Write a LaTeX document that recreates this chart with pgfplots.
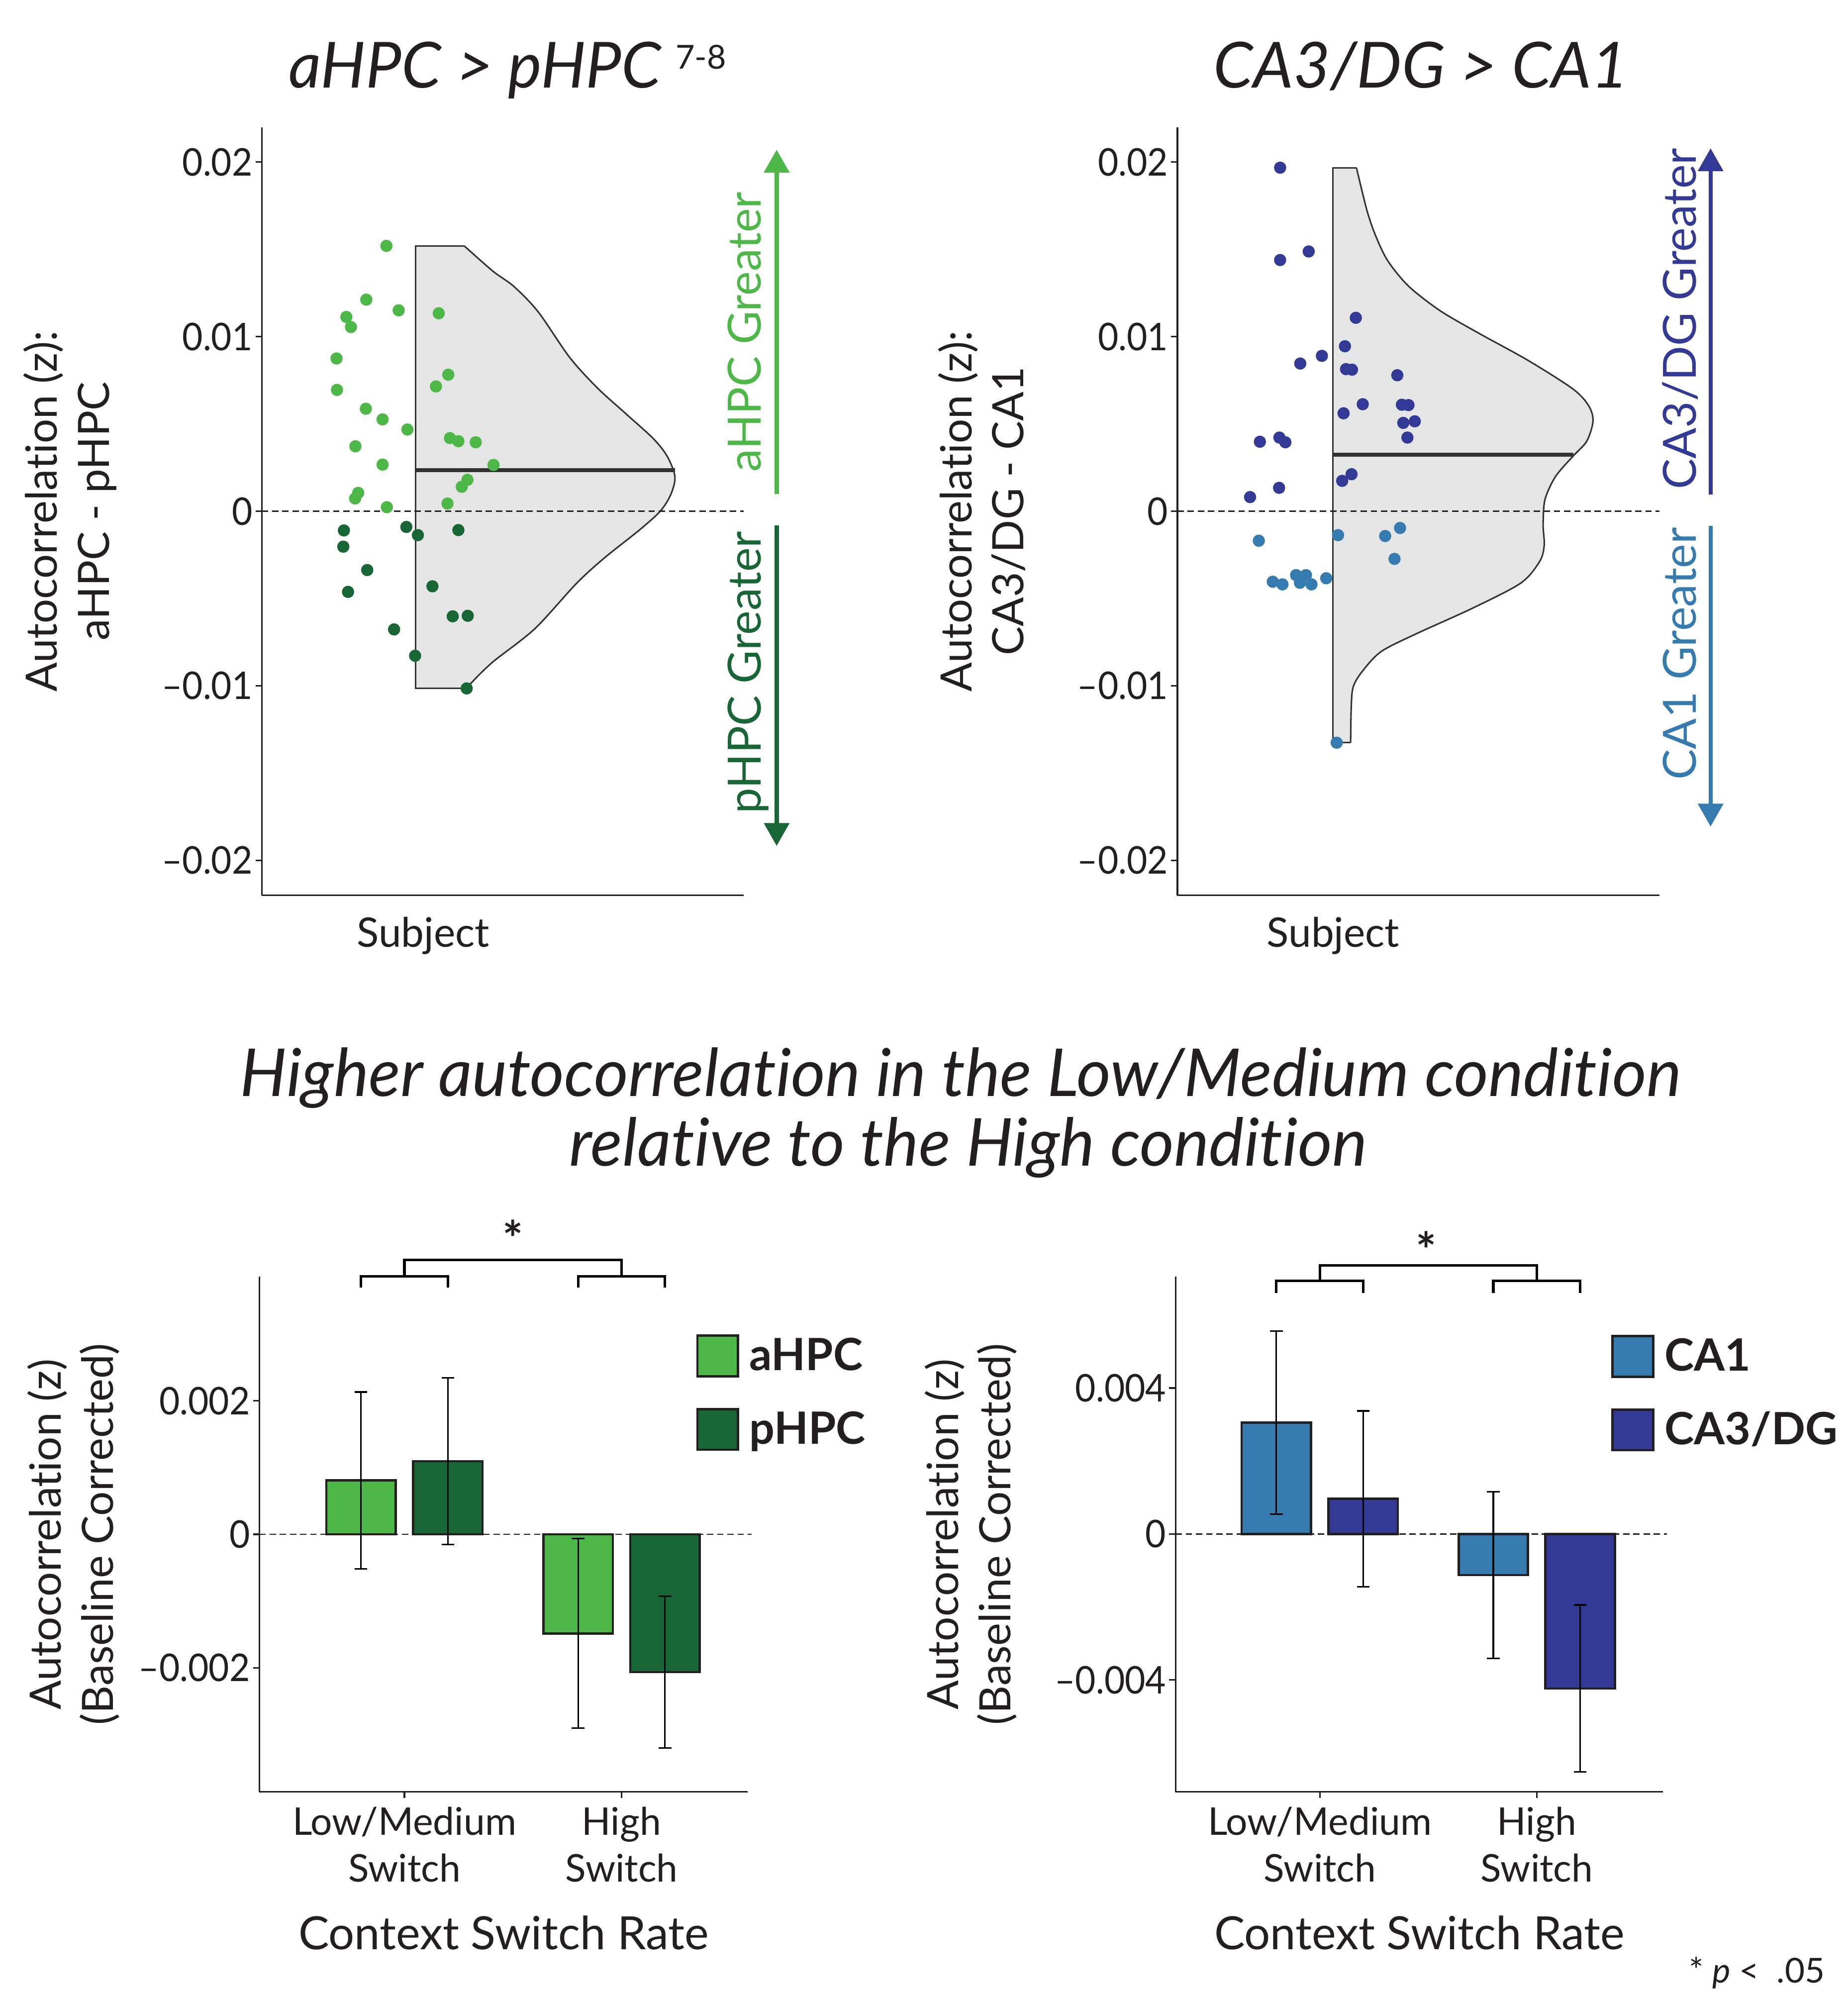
\documentclass[border=0pt]{standalone}
\usepackage{fontspec}
\setmainfont{Lato}[Ligatures=NoCommon]
\newfontfamily\condfont[FakeStretch=0.93]{Lato}
\usepackage{pgfplots}
\pgfplotsset{compat=1.18}
\usetikzlibrary{arrows.meta}

\definecolor{ahpc}{HTML}{4DB848}
\definecolor{phpc}{HTML}{186535}
\definecolor{caone}{HTML}{367BB0}
\definecolor{cathree}{HTML}{323A96}
\definecolor{vfill}{HTML}{E4E5E4}
\definecolor{vline}{HTML}{333333}
\definecolor{ink}{HTML}{231F20}

\tikzset{
  zeroline/.style={ink, line width=0.5pt, dash pattern=on 2.5pt off 1.5pt},
  bracket/.style={black, line width=1pt},
}
\pgfplotsset{
  panel/.style={
    scale only axis, clip=false,
    axis lines=left, axis line style={-, line width=0.6pt, ink},
    tick align=outside, major tick length=2.5pt,
    tick style={line width=0.6pt, ink},
    scaled y ticks=false,
    yticklabel style={font=\condfont\fontsize{15}{17}\selectfont, text=ink, inner sep=1pt},
    xticklabel style={text=ink},
    ylabel style={align=center, font=\fontsize{17}{20.5}\selectfont, text=ink, anchor=center},
    xlabel style={font=\fontsize{18}{21}\selectfont, text=ink},
  },
  dots/.style={only marks, mark=*, mark size=2.2pt, color=#1, mark options={solid, fill=#1, draw=#1}},
  violin/.style={draw=none, fill=vfill},
  outline/.style={vline, line width=0.6pt},
  bars/.style={ybar, bar width=0.32, bar shift=0pt, fill=#1, draw=ink, line width=0.9pt,
    error bars/y dir=both, error bars/y explicit,
    error bars/error bar style={line width=0.6pt, black},
    error bars/error mark options={rotate=90, mark size=2.5pt, line width=0.6pt, black}},
  barlegend/.style={draw=none, fill=none,
    font=\bfseries\fontsize{17.5}{20}\selectfont, text=ink, row sep=12pt, column sep=3pt,
    nodes={inner sep=1pt}},
}

\begin{document}
\begin{tikzpicture}

% ---------------- top left: aHPC - pHPC ----------------
\begin{axis}[panel, at={(103pt,-352pt)}, anchor=south west,
  width=189.5pt, height=302pt,
  xmin=-1, xmax=2.14, ymin=-0.022, ymax=0.022,
  ytick={-0.02,-0.01,0,0.01,0.02},
  yticklabels={\textendash0.02,\textendash0.01,0,0.01,0.02},
  xtick={0.05}, xticklabels={Subject}, xtick style={draw=none},
  xticklabel style={font=\fontsize{16}{19}\selectfont, yshift=-2.5pt},
  ylabel={Autocorrelation (z):\\aHPC - pHPC},
  ylabel style={at={(axis description cs:-0.398,0.5)}},
]
\addplot[violin] coordinates {(0,0.0152) (0.318,0.0152) (0.505,0.01375) (0.641,0.01288)
  (0.8,0.01142) (1.005,0.00881) (1.186,0.00706) (1.368,0.00561) (1.55,0.00416)
  (1.641,0.00314) (1.691,0.00198) (1.664,0.00096) (1.595,0) (1.459,-0.00108)
  (1.232,-0.00267) (1.05,-0.00413) (0.777,-0.00674) (0.505,-0.00863) (0.368,-0.0098)
  (0.345,-0.01015) (0,-0.01015)};
\addplot[outline, smooth, tension=0.5] coordinates {(0.318,0.0152) (0.505,0.01375) (0.641,0.01288)
  (0.8,0.01142) (1.005,0.00881) (1.186,0.00706) (1.368,0.00561) (1.55,0.00416)
  (1.641,0.00314) (1.691,0.00198) (1.664,0.00096) (1.595,0) (1.459,-0.00108)
  (1.232,-0.00267) (1.05,-0.00413) (0.777,-0.00674) (0.505,-0.00863) (0.368,-0.0098)
  (0.345,-0.01015)};
\addplot[outline] coordinates {(0.318,0.0152) (0,0.0152) (0,-0.01015) (0.345,-0.01015)};
\draw[zeroline] (axis cs:-1,0) -- (axis cs:2.14,0);
\addplot[vline, line width=1.6pt] coordinates {(0,0.00235) (1.69,0.00235)};
\addplot[dots=ahpc] coordinates {(-0.189,0.01520) (-0.320,0.01212) (-0.109,0.01151)
  (0.152,0.01134) (-0.450,0.01113) (-0.420,0.01055) (-0.514,0.00875) (-0.511,0.00695)
  (0.214,0.00782) (0.134,0.00715) (-0.323,0.00587) (-0.214,0.00526) (-0.052,0.00468)
  (-0.391,0.00372) (0.225,0.00419) (0.280,0.00401) (0.393,0.00395) (-0.214,0.00267)
  (0.509,0.00265) (0.339,0.00180) (0.302,0.00140) (-0.373,0.00105) (-0.393,0.00073)
  (-0.186,0.00023) (0.209,0.00044)};
\addplot[dots=phpc] coordinates {(-0.466,-0.00110) (-0.059,-0.00090) (0.016,-0.00137)
  (0.280,-0.00108) (-0.470,-0.00203) (-0.314,-0.00337) (-0.439,-0.00462) (0.111,-0.00430)
  (0.243,-0.00602) (0.341,-0.00599) (-0.139,-0.00677) (-0.002,-0.00828) (0.334,-0.01015)};
\end{axis}

% ---------------- top right: CA3/DG - CA1 ----------------
\begin{axis}[panel, at={(463pt,-352pt)}, anchor=south west,
  width=189.5pt, height=302pt,
  xmin=-1.014, xmax=2.125, ymin=-0.022, ymax=0.022,
  ytick={-0.02,-0.01,0,0.01,0.02},
  yticklabels={\textendash0.02,\textendash0.01,0,0.01,0.02},
  xtick={0}, xticklabels={Subject}, xtick style={draw=none},
  xticklabel style={font=\fontsize{16}{19}\selectfont, yshift=-2.5pt},
  ylabel={Autocorrelation (z):\\CA3/DG - CA1},
  ylabel style={at={(axis description cs:-0.406,0.5)}},
]
\addplot[violin] coordinates {(0,0.01968) (0.152,0.01968) (0.220,0.01724) (0.277,0.01578)
  (0.357,0.01433) (0.493,0.01288) (0.698,0.01148) (0.948,0.01020) (1.266,0.00866)
  (1.561,0.00701) (1.664,0.00605) (1.693,0.00517) (1.652,0.00401) (1.561,0.00314)
  (1.448,0.00198) (1.380,0.00067) (1.368,-0.00078) (1.375,-0.00195) (1.345,-0.00288)
  (1.220,-0.00413) (0.902,-0.00558) (0.539,-0.00703) (0.311,-0.00805) (0.186,-0.00922)
  (0.130,-0.01009) (0.118,-0.01125) (0.114,-0.01326) (0,-0.01326)};
\addplot[outline, smooth, tension=0.5] coordinates {(0.152,0.01968) (0.220,0.01724) (0.277,0.01578)
  (0.357,0.01433) (0.493,0.01288) (0.698,0.01148) (0.948,0.01020) (1.266,0.00866)
  (1.561,0.00701) (1.664,0.00605) (1.693,0.00517) (1.652,0.00401) (1.561,0.00314)
  (1.448,0.00198) (1.380,0.00067) (1.368,-0.00078) (1.375,-0.00195) (1.345,-0.00288)
  (1.220,-0.00413) (0.902,-0.00558) (0.539,-0.00703) (0.311,-0.00805) (0.186,-0.00922)
  (0.130,-0.01009) (0.118,-0.01125) (0.114,-0.01326)};
\addplot[outline] coordinates {(0.152,0.01968) (0,0.01968) (0,-0.01326) (0.114,-0.01326)};
\draw[zeroline] (axis cs:-1.014,0) -- (axis cs:2.125,0);
\addplot[vline, line width=1.6pt] coordinates {(0,0.00323) (1.566,0.00323)};
\addplot[dots=cathree] coordinates {(-0.345,0.01968) (-0.345,0.01439) (-0.159,0.01488)
  (0.148,0.01108) (0.077,0.00945) (-0.214,0.00846) (-0.073,0.00890) (0.084,0.00814)
  (0.123,0.00811) (0.418,0.00779) (0.193,0.00613) (0.068,0.00561) (0.448,0.00610)
  (0.491,0.00608) (0.457,0.00506) (0.532,0.00515) (0.484,0.00422) (-0.477,0.00398)
  (-0.350,0.00422) (-0.311,0.00395) (-0.352,0.00134) (-0.541,0.00081) (0.059,0.00174)
  (0.120,0.00212)};
\addplot[dots=caone] coordinates {(-0.484,-0.00169) (0.032,-0.00137) (0.339,-0.00142)
  (0.436,-0.00096) (0.400,-0.00273) (-0.393,-0.00404) (-0.330,-0.00419) (-0.241,-0.00366)
  (-0.177,-0.00366) (-0.216,-0.00410) (-0.141,-0.00419) (-0.045,-0.00384) (0.023,-0.01326)};
\end{axis}

% ---------------- bottom left: hippocampal axis bars ----------------
\begin{axis}[panel, at={(102pt,-704.5pt)}, anchor=south west,
  width=192pt, height=202.5pt,
  xmin=-0.668, xmax=1.581, ymin=-0.00386, ymax=0.00386,
  ytick={-0.002,0,0.002}, yticklabels={\textendash0.002,0,0.002},
  xtick={0,1}, xticklabels={Low/Medium\\Switch, High\\Switch},
  xticklabel style={align=center, font=\fontsize{15}{18.3}\selectfont},
  xlabel={Context Switch Rate},
  xlabel style={at={(axis description cs:0.5,-0.306)}, anchor=base},
  ylabel={Autocorrelation (z)\\(Baseline Corrected)},
  ylabel style={at={(axis description cs:-0.381,0.5)}},
  legend style={barlegend, at={(0.878,0.899)}, anchor=north west},
  legend cell align=left,
]
\draw[zeroline] (axis cs:-0.668,0) -- (axis cs:1.6,0);
\addplot[bars=ahpc,
  legend image code/.code={\draw[fill=ahpc,draw=ink,line width=0.9pt] (0pt,-8pt) rectangle (16pt,8pt);}]
  coordinates {(-0.2,0.000808) +- (0,0.001325) (0.8,-0.001486) +- (0,0.00142)};
\addlegendentry{aHPC}
\addplot[bars=phpc,
  legend image code/.code={\draw[fill=phpc,draw=ink,line width=0.9pt] (0pt,-8pt) rectangle (16pt,8pt);}]
  coordinates {(0.2,0.001097) +- (0,0.00125) (1.2,-0.002065) +- (0,0.00114)};
\addlegendentry{pHPC}
\draw[bracket] (axis cs:-0.2,0.0037) -- (axis cs:-0.2,0.00387) -- (axis cs:0.2,0.00387) -- (axis cs:0.2,0.0037);
\draw[bracket] (axis cs:0.8,0.0037) -- (axis cs:0.8,0.00387) -- (axis cs:1.2,0.00387) -- (axis cs:1.2,0.0037);
\draw[bracket] (axis cs:0,0.00387) -- (axis cs:0,0.00411) -- (axis cs:1,0.00411) -- (axis cs:1,0.00387);
\node[font=\bfseries\fontsize{19}{21}\selectfont, text=ink] at (axis cs:0.5,0.00444) {*};
\end{axis}

% ---------------- bottom right: subfield bars ----------------
\begin{axis}[panel, at={(462.25pt,-704.5pt)}, anchor=south west,
  width=191.75pt, height=202.5pt,
  xmin=-0.665, xmax=1.583, ymin=-0.00707, ymax=0.00705,
  ytick={-0.004,0,0.004}, yticklabels={\textendash0.004,0,0.004},
  xtick={0,1}, xticklabels={Low/Medium\\Switch, High\\Switch},
  xticklabel style={align=center, font=\fontsize{15}{18.3}\selectfont},
  xlabel={Context Switch Rate},
  xlabel style={at={(axis description cs:0.5,-0.306)}, anchor=base},
  ylabel={Autocorrelation (z)\\(Baseline Corrected)},
  ylabel style={at={(axis description cs:-0.42,0.5)}},
  legend style={barlegend, at={(0.877,0.898)}, anchor=north west},
  legend cell align=left,
]
\draw[zeroline] (axis cs:-0.665,0) -- (axis cs:1.6,0);
\addplot[bars=caone,
  legend image code/.code={\draw[fill=caone,draw=ink,line width=0.9pt] (0pt,-8pt) rectangle (16pt,8pt);}]
  coordinates {(-0.2,0.003052) +- (0,0.00251) (0.8,-0.001129) +- (0,0.00229)};
\addlegendentry{CA1}
\addplot[bars=cathree,
  legend image code/.code={\draw[fill=cathree,draw=ink,line width=0.9pt] (0pt,-8pt) rectangle (16pt,8pt);}]
  coordinates {(0.2,0.000962) +- (0,0.00241) (1.2,-0.004237) +- (0,0.00229)};
\addlegendentry{CA3/DG}
\draw[bracket] (axis cs:-0.2,0.0066) -- (axis cs:-0.2,0.00694) -- (axis cs:0.2,0.00694) -- (axis cs:0.2,0.0066);
\draw[bracket] (axis cs:0.8,0.0066) -- (axis cs:0.8,0.00694) -- (axis cs:1.2,0.00694) -- (axis cs:1.2,0.0066);
\draw[bracket] (axis cs:0,0.00694) -- (axis cs:0,0.00736) -- (axis cs:1,0.00736) -- (axis cs:1,0.00694);
\node[font=\bfseries\fontsize{19}{21}\selectfont, text=ink] at (axis cs:0.49,0.0078) {*};
\end{axis}

% ---------------- titles and side arrows ----------------
\begin{scope}[x=0.5pt, y=-0.5pt]
\node[anchor=base, text=ink, font=\itshape\fontsize{25}{30}\selectfont] at (373.5,69) {aHPC > pHPC};
\node[anchor=base west, text=ink, font=\fontsize{13}{15}\selectfont, inner sep=0pt] at (531,54) {7-8};
\node[anchor=base, text=ink, font=\itshape\fontsize{25}{30}\selectfont] at (1117.5,69) {CA3/DG > CA1};
\node[anchor=base, text=ink, font=\itshape\fontsize{26}{31}\selectfont] at (755.5,862)
  {Higher autocorrelation in the Low/Medium condition};
\node[anchor=base, text=ink, font=\itshape\fontsize{26}{31}\selectfont] at (761.5,917)
  {relative to the High condition};

\draw[ahpc, line width=1.65pt, -{Triangle[width=9.7pt,length=9pt]}] (610.8,388.3) -- (610.8,117.7);
\draw[phpc, line width=1.65pt, -{Triangle[width=9.7pt,length=9pt]}] (610.8,413) -- (610.8,665.2);
\draw[cathree, line width=1.65pt, -{Triangle[width=9.7pt,length=9pt]}] (1345.3,389) -- (1345.3,116.6);
\draw[caone, line width=1.65pt, -{Triangle[width=9.7pt,length=9pt]}] (1345.3,413.4) -- (1345.3,650);

\node[rotate=90, anchor=base, text=ahpc, font=\fontsize{18}{20}\selectfont] at (598.4,261) {aHPC Greater};
\node[rotate=90, anchor=base, text=phpc, font=\fontsize{18}{20}\selectfont] at (598.4,528.8) {pHPC Greater};
\node[rotate=90, anchor=base, text=cathree, font=\fontsize{18}{20}\selectfont] at (1334,250.7) {CA3/DG Greater};
\node[rotate=90, anchor=base, text=caone, font=\fontsize{18}{20}\selectfont] at (1334,514) {CA1 Greater};

\node[anchor=base east, text=ink, font=\fontsize{13.5}{16}\selectfont, inner sep=0pt] at (1435.5,1559)
  {* \textit{p} <\ \ .05};
\end{scope}

\pgfresetboundingbox
\useasboundingbox (0pt,0pt) rectangle (726.5pt,-784pt);
\end{tikzpicture}
\end{document}
